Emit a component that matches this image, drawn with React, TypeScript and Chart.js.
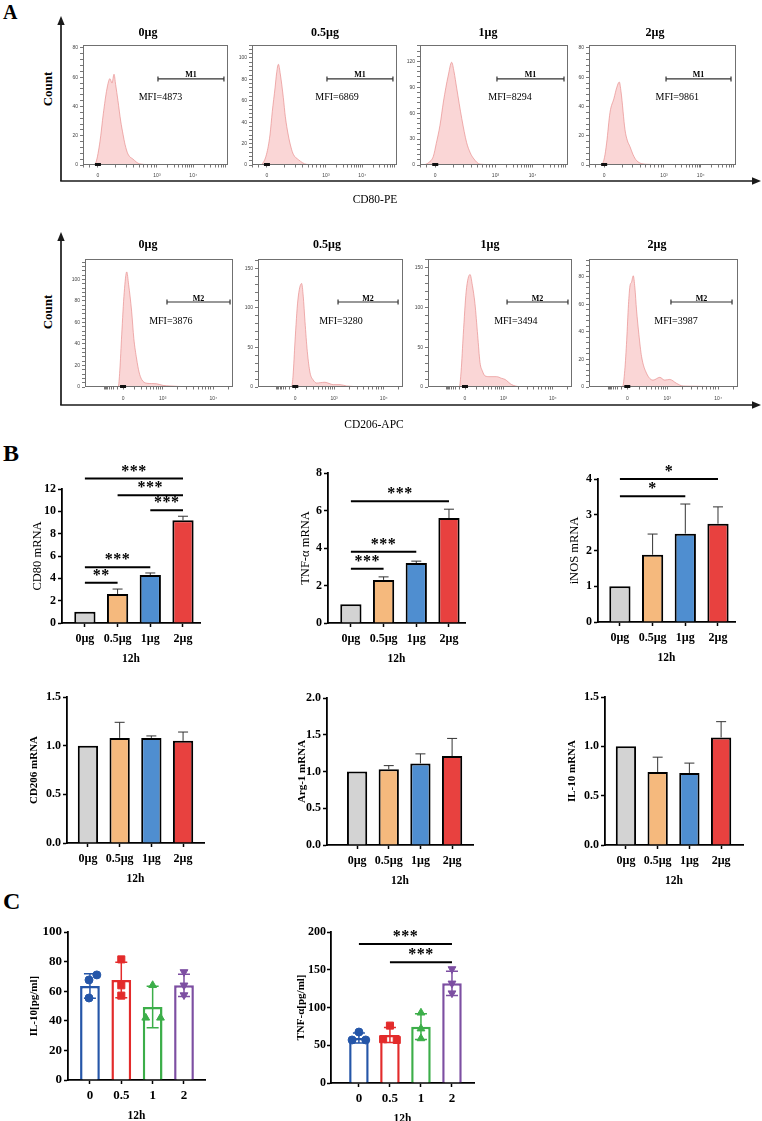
import React, { useEffect, useRef } from 'react';
import { Chart, registerables } from 'chart.js';

Chart.register(...registerables);

const SERIF = '"Liberation Serif", "Times New Roman", Times, serif';
const SANS = '"Liberation Sans", Arial, sans-serif';

/* ================= Panel A : flow cytometry ================= */
const doseTitles = ['0µg', '0.5µg', '1µg', '2µg'];
const flowAxisLabels = ['0', '10³', '10⁴'];
const cd80AxisPos = [10.3, 51, 76];
const cd206AxisPos = [25.7, 52.5, 86.7];
const cd80Mfi = [4873, 6869, 8294, 9861];
const cd206Mfi = [3876, 3280, 3494, 3987];
const cd80YMax = [82, 112, 139, 82];
const cd80YStep = [20, 20, 30, 20];
const cd206YMax = [119, 162, 161, 93];
const cd206YStep = [20, 50, 50, 20];

// channel (percent of axis) / count
const cd80Ch0 = [0, 7, 9, 11.7, 14, 16.5, 18.6, 20, 21.4, 22.5, 24.1, 26, 27.6, 29, 31, 34.5, 39, 45, 60, 100];
const cd80Cnt0 = [0, 0, 2, 16, 35, 52, 59, 56, 62, 55, 44, 30, 21, 14, 7.5, 4, 0.8, 0.3, 0.2, 0.2];
const cd80Ch1 = [0, 5, 7, 10, 12.4, 14, 15.9, 17, 18.2, 19.5, 21.6, 23, 25, 27, 28.5, 32, 37.7, 45, 60, 100];
const cd80Cnt1 = [0, 0, 1, 10, 28, 50, 72, 86, 94, 85, 63, 45, 28, 16, 10, 5, 0.6, 0.3, 0.2, 0.2];
const cd80Ch2 = [0, 2, 3.4, 6, 9, 11, 13.5, 15.8, 17.5, 19, 21.4, 23, 24.8, 28.2, 31.5, 34, 36, 40.5, 50, 100];
const cd80Cnt2 = [0, 0, 0.5, 3, 10, 25, 46, 73, 90, 103, 119, 108, 89, 54, 26, 14, 8, 1, 0.3, 0.2];
const cd80Ch3 = [0, 5, 8.6, 10.5, 12, 14.3, 17, 18.8, 20.6, 21.8, 24.5, 26, 27.9, 30, 32.4, 39.2, 50, 100];
const cd80Cnt3 = [0, 0, 0.3, 5, 15, 36, 45.6, 52.7, 56.7, 50, 24, 17, 12.5, 7, 3, 0.5, 0.3, 0.2];

const cd206Ch0 = [0, 20, 22.5, 23.5, 24.8, 26.5, 28.2, 29.5, 31.5, 33, 34.9, 36.5, 38.3, 41.7, 45, 48.4, 52.7, 57.4, 68.7, 100];
const cd206Cnt0 = [0, 0, 0.5, 15, 48.5, 88, 107, 95, 70.5, 45, 26, 14, 7, 3.5, 3.2, 3, 1.5, 1, 0.3, 0.2];
const cd206Ch1 = [0, 20, 23.2, 24.2, 25.5, 27.5, 30.1, 31.2, 32.4, 34, 35.9, 38, 40.5, 43, 46.2, 49, 51.8, 56.6, 61.1, 70.3, 100];
const cd206Cnt1 = [0, 0, 0.5, 15, 57, 110, 131, 115, 83, 45, 18, 9, 5, 5.5, 6, 4.5, 3, 3, 1.3, 0.5, 0.2];
const cd206Ch2 = [0, 19, 21.8, 23, 24.5, 26.5, 29.2, 30.8, 32.6, 34.5, 36.1, 37.8, 39.6, 43, 47.7, 51, 53.5, 58.1, 63.9, 100];
const cd206Cnt2 = [0, 0, 0.5, 20, 66, 120, 141.5, 128, 105, 65, 31, 20, 14, 13, 13, 11, 9.5, 3, 0.5, 0.2];
const cd206Ch3 = [0, 19, 22.6, 24, 25.3, 26.5, 27.5, 28.5, 29.7, 30.8, 31.9, 33.5, 35.3, 38.6, 43, 47.5, 50.8, 54.2, 58.7, 63.1, 100];
const cd206Cnt3 = [0, 0, 0.5, 12, 34, 60, 73.5, 76, 80.8, 72, 56, 38, 22, 10, 5, 7, 5, 5.5, 2.7, 0.7, 0.3];

/* ================= Panel B : qPCR ================= */
const bGroups = ['0µg', '0.5µg', '1µg', '2µg'];
const cd80Mean = [1.0, 2.6, 4.3, 9.2];
const cd80Sd = [0, 0.44, 0.18, 0.36];
const cd80Sig = [[0, 3, 12.95, '***'], [1, 3, 11.45, '***'], [2, 3, 10.1, '***'], [0, 2, 5.0, '***'], [0, 1, 3.6, '**']];
const tnfMean = [1.0, 2.3, 3.2, 5.6];
const tnfSd = [0, 0.16, 0.1, 0.47];
const tnfSig = [[0, 3, 6.5, '***'], [0, 2, 3.8, '***'], [0, 1, 2.9, '***']];
const inosMean = [1.0, 1.88, 2.47, 2.75];
const inosSd = [0, 0.58, 0.83, 0.47];
const inosSig = [[0, 3, 4.0, '*'], [0, 2, 3.52, '*']];
const cd206Mean = [1.0, 1.08, 1.08, 1.05];
const cd206Sd = [0, 0.16, 0.02, 0.09];
const arg1Mean = [1.0, 1.03, 1.11, 1.21];
const arg1Sd = [0, 0.05, 0.13, 0.24];
const il10Mean = [1.0, 0.74, 0.73, 1.09];
const il10Sd = [0, 0.15, 0.1, 0.16];

/* ================= Panel C : ELISA ================= */
const cGroups = ['0', '0.5', '1', '2'];
const il10pgMean = [63.5, 67.5, 49.3, 64];
const il10pgSd = [8.3, 12, 14, 7.5];
const il10pgPts = [[67.6, 55.4, 71], [81.5, 64, 57], [64, 42, 42], [73, 64, 57.4]];
const il10pgJit = [[-0.03, -0.03, 0.22], [0, 0, 0], [0, -0.22, 0.25], [0, 0, 0]];
const tnfpgMean = [59.6, 63.6, 74.6, 132];
const tnfpgSd = [6.5, 10, 17, 16];
const tnfpgPts = [[67.5, 57, 57], [76, 58, 57], [93, 72, 59], [151, 132, 119]];
const tnfpgJit = [[0, -0.22, 0.22], [0, -0.22, 0.22], [0, 0, 0], [0, 0, 0]];
const tnfpgSig = [[0, 3, 184, '***'], [1, 3, 160, '***']];

/* ================= styles ================= */
const bFills = ['#d3d3d3', '#f5b97d', '#4f8ed0', '#e8413f'];
const cColors = ['#2556a8', '#e32b2b', '#3cae49', '#7d4fa2'];
const cShapes = ['circle', 'rect', 'triangle', 'triangle'];
const cRot = [0, 0, 0, 180];
const cRadius = [4, 5, 4.5, 4.5];

/* ================= generic canvas ================= */
function ChartCanvas({ left, top, width, height, config }: any) {
  const ref = useRef<HTMLCanvasElement | null>(null);
  useEffect(() => {
    if (!ref.current) return;
    const chart = new Chart(ref.current, config());
    return () => chart.destroy();
  }, []);
  return (
    <canvas
      ref={ref}
      width={width}
      height={height}
      style={{ position: 'absolute', left, top, width, height }}
    />
  );
}

/* ================= histogram ================= */
const HL = 22, HT = 26, HR = 4, HB = 18;

function flowMinorTicks(pos: number[]) {
  const out: number[] = [];
  const w0 = pos[1] - pos[0];
  const w1 = pos[2] - pos[1];
  for (let k = 2; k <= 9; k++) {
    const l = Math.log10(k);
    out.push(pos[0] - w0 * l * 0.5);
    out.push(pos[0] + w0 * l);
    out.push(pos[1] + w1 * l);
    out.push(pos[2] + w1 * l);
  }
  return out.filter((v) => v > 0.5 && v < 99.5);
}

function histSetup(s: any) {
  const [l, t, r, b] = s.box;
  const left = l - HL;
  const top = t - HT;
  const width = r - l + HL + HR;
  const height = b - t + HT + HB;
  const xTicks = [...s.axisPos, ...flowMinorTicks(s.axisPos)].sort((a, c) => a - c);
  const yTicks: number[] = [];
  for (let k = 0; k * s.yStep / 5 <= s.yMax; k++) yTicks.push(k * s.yStep / 5);

  const decor = {
    id: 'histDecor',
    afterDraw(chart: any) {
      const { ctx, chartArea: a, scales } = chart;
      const xs = scales.x;
      const h = a.bottom - a.top;
      ctx.save();
      ctx.strokeStyle = '#707070';
      ctx.lineWidth = 1;
      ctx.strokeRect(a.left + 0.5, a.top + 0.5, a.right - a.left - 1, h - 1);
      ctx.fillStyle = '#000';
      ctx.textAlign = 'center';
      ctx.font = `bold 12px ${SERIF}`;
      ctx.textBaseline = 'middle';
      ctx.fillText(s.title, xs.getPixelForValue(s.titleU), a.top - s.titleGap);
      const gy = a.top + h * s.gateFrac;
      const g0 = xs.getPixelForValue(s.gate[0]);
      const g1 = xs.getPixelForValue(s.gate[1]);
      ctx.strokeStyle = '#333';
      ctx.lineWidth = 1.2;
      ctx.beginPath();
      ctx.moveTo(g0, gy); ctx.lineTo(g1, gy);
      ctx.moveTo(g0, gy - 2.5); ctx.lineTo(g0, gy + 2.5);
      ctx.moveTo(g1, gy - 2.5); ctx.lineTo(g1, gy + 2.5);
      ctx.stroke();
      ctx.font = `bold 8px ${SERIF}`;
      ctx.textBaseline = 'alphabetic';
      ctx.fillText(s.gateName, (g0 + g1) / 2, gy - 1.5);
      ctx.font = `10px ${SERIF}`;
      ctx.textBaseline = 'middle';
      ctx.fillText('MFI=' + s.mfi, xs.getPixelForValue(s.mfiU), a.top + h * s.mfiFrac);
      ctx.fillStyle = '#111';
      const zx = xs.getPixelForValue(s.axisPos[0]);
      ctx.fillRect(zx - 3, a.bottom - 2, 6, 3);
      ctx.restore();
    },
  };

  const config = () => ({
    type: 'line',
    data: {
      datasets: [
        {
          data: s.xs.map((x: number, i: number) => ({ x, y: s.ys[i] })),
          fill: 'origin',
          backgroundColor: 'rgba(243,165,165,0.45)',
          borderColor: 'rgba(232,140,140,0.85)',
          borderWidth: 0.8,
          pointRadius: 0,
          cubicInterpolationMode: 'monotone',
        },
      ],
    },
    options: {
      animation: false,
      responsive: false,
      events: [],
      layout: { padding: { top: HT, right: HR, left: 0, bottom: 0 } },
      plugins: { legend: { display: false }, tooltip: { enabled: false } },
      scales: {
        x: {
          type: 'linear',
          min: 0,
          max: 100,
          border: { display: false },
          grid: { drawOnChartArea: false, drawTicks: true, tickLength: 2.5, tickColor: '#555', tickWidth: 0.8 },
          afterBuildTicks: (sc: any) => { sc.ticks = xTicks.map((v) => ({ value: v })); },
          afterFit: (sc: any) => { sc.height = HB; },
          ticks: {
            autoSkip: false,
            maxRotation: 0,
            padding: s.xPad,
            color: '#444',
            font: { family: SANS, size: 5 },
            callback: (v: number) => {
              const i = s.axisPos.indexOf(v);
              return i >= 0 ? flowAxisLabels[i] : '';
            },
          },
        },
        y: {
          type: 'linear',
          min: 0,
          max: s.yMax,
          border: { display: false },
          grid: { drawOnChartArea: false, drawTicks: true, tickLength: 3, tickColor: '#555', tickWidth: 0.8 },
          afterBuildTicks: (sc: any) => { sc.ticks = yTicks.map((v) => ({ value: v })); },
          afterFit: (sc: any) => { sc.width = HL; },
          ticks: {
            autoSkip: false,
            padding: 2,
            color: '#444',
            font: { family: SANS, size: 5 },
            callback: (v: number) => (Math.abs(v / s.yStep - Math.round(v / s.yStep)) < 1e-6 ? String(Math.round(v)) : ''),
          },
        },
      },
    },
    plugins: [decor],
  });
  return { left, top, width, height, config };
}

const cd80Boxes = [[83, 45, 228, 165], [252, 45, 397, 165], [420, 45, 568, 165], [589, 45, 736, 165]];
const cd206Boxes = [[85, 259, 233, 387], [258, 259, 403, 387], [428, 259, 572, 387], [589, 259, 738, 387]];
const cd80TitleU = [44.8, 50.3, 45.9, 44.9];
const cd206TitleU = [42.6, 47.6, 43, 45.6];
const cd80Gate = [[51.7, 97.2], [51.7, 97.2], [52, 97.3], [52.4, 96.6]];
const cd206Gate = [[55.4, 98], [55.2, 96.6], [54.9, 97.2], [55, 96]];
const cd80MfiU = [53.4, 58.6, 60.8, 60];
const cd206MfiU = [58, 57.2, 61, 58.4];
const cd80Series = [[cd80Ch0, cd80Cnt0], [cd80Ch1, cd80Cnt1], [cd80Ch2, cd80Cnt2], [cd80Ch3, cd80Cnt3]];
const cd206Series = [[cd206Ch0, cd206Cnt0], [cd206Ch1, cd206Cnt1], [cd206Ch2, cd206Cnt2], [cd206Ch3, cd206Cnt3]];

const hists = [
  ...cd80Series.map(([xs, ys], i) =>
    histSetup({
      box: cd80Boxes[i], xs, ys, yMax: cd80YMax[i], yStep: cd80YStep[i], title: doseTitles[i],
      titleU: cd80TitleU[i], titleGap: 12, gate: cd80Gate[i], gateName: 'M1', gateFrac: 0.283,
      mfi: cd80Mfi[i], mfiU: cd80MfiU[i], mfiFrac: 0.433, axisPos: cd80AxisPos, xPad: 5.5,
    })
  ),
  ...cd206Series.map(([xs, ys], i) =>
    histSetup({
      box: cd206Boxes[i], xs, ys, yMax: cd206YMax[i], yStep: cd206YStep[i], title: doseTitles[i],
      titleU: cd206TitleU[i], titleGap: 14, gate: cd206Gate[i], gateName: 'M2', gateFrac: 0.336,
      mfi: cd206Mfi[i], mfiU: cd206MfiU[i], mfiFrac: 0.49, axisPos: cd206AxisPos, xPad: 6,
    })
  ),
];

/* ================= bar charts ================= */
const PT = 50, PR = 10, XH = 43;

function barSetup(s: any) {
  const lh = s.titleSize * 1.2;
  const left = Math.round(s.titleX - lh / 2);
  const yW = s.axisX - left;
  const top = s.topY - PT;
  const width = s.rightX + PR - left;
  const height = PT + (s.zeroY - s.topY) + XH;

  const decor = {
    id: 'barDecor',
    afterDatasetsDraw(chart: any) {
      const { ctx, scales } = chart;
      const x = scales.x, y = scales.y;
      ctx.save();
      s.means.forEach((m: number, i: number) => {
        const sd = s.sds[i];
        if (!sd) return;
        const px = x.getPixelForValue(i);
        const yHi = y.getPixelForValue(m + sd);
        const yLo = y.getPixelForValue(s.errBoth ? m - sd : m);
        ctx.strokeStyle = s.errColors[i];
        ctx.lineWidth = s.errW;
        ctx.beginPath();
        ctx.moveTo(px, yLo); ctx.lineTo(px, yHi);
        ctx.moveTo(px - s.capW / 2, yHi); ctx.lineTo(px + s.capW / 2, yHi);
        if (s.errBoth) { ctx.moveTo(px - s.capW / 2, yLo); ctx.lineTo(px + s.capW / 2, yLo); }
        ctx.stroke();
      });
      ctx.restore();
    },
    afterDraw(chart: any) {
      if (!s.sig) return;
      const { ctx, scales } = chart;
      const x = scales.x, y = scales.y;
      ctx.save();
      ctx.strokeStyle = '#000';
      ctx.fillStyle = '#000';
      ctx.lineWidth = 2;
      ctx.textAlign = 'center';
      ctx.textBaseline = 'middle';
      ctx.font = `bold 16px ${SERIF}`;
      try { (ctx as any).letterSpacing = '0.5px'; } catch (e) { /* ignore */ }
      s.sig.forEach(([a, b, v, t]: any) => {
        const x0 = x.getPixelForValue(a);
        const x1 = x.getPixelForValue(b);
        const py = y.getPixelForValue(v);
        ctx.beginPath();
        ctx.moveTo(x0, py); ctx.lineTo(x1, py);
        ctx.stroke();
        ctx.fillText(t, (x0 + x1) / 2, py - 7);
      });
      ctx.restore();
    },
  };

  const config = () => {
    const datasets: any[] = [
      {
        type: 'bar',
        data: s.means.map((m: number, i: number) => ({ x: i, y: m })),
        backgroundColor: s.fills,
        borderColor: s.borders,
        borderWidth: s.bw,
        borderSkipped: 'start',
        categoryPercentage: 1,
        barPercentage: s.barPct,
        order: 2,
      },
    ];
    if (s.pts) {
      s.pts.forEach((vals: number[], g: number) =>
        datasets.push({
          type: 'scatter',
          data: vals.map((v, k) => ({ x: g + s.jit[g][k], y: v })),
          pointStyle: cShapes[g],
          pointRotation: cRot[g],
          pointRadius: cRadius[g],
          backgroundColor: s.borders[g],
          borderColor: s.borders[g],
          borderWidth: 1,
          order: 1,
        })
      );
    }
    return {
      type: 'bar',
      data: { datasets },
      options: {
        animation: false,
        responsive: false,
        events: [],
        layout: { padding: { top: PT, right: PR, left: 0, bottom: 0 } },
        plugins: { legend: { display: false }, tooltip: { enabled: false } },
        scales: {
          x: {
            type: 'linear',
            min: s.xMin,
            max: s.xMax,
            offset: false,
            afterBuildTicks: (sc: any) => { sc.ticks = s.xLabels.map((_: any, i: number) => ({ value: i })); },
            afterFit: (sc: any) => { sc.height = XH; },
            ticks: {
              autoSkip: false,
              maxRotation: 0,
              padding: s.xPad,
              color: '#000',
              font: { family: SERIF, size: s.xFont, weight: 'bold' },
              callback: (v: number) => s.xLabels[v] ?? '',
            },
            grid: { offset: false, drawOnChartArea: false, drawTicks: true, tickLength: 4, tickColor: '#000', tickWidth: 1.5 },
            border: { display: true, color: '#000', width: 1.8 },
            title: { display: true, text: '12h', color: '#000', font: { family: SERIF, size: 11.5, weight: 'bold' }, padding: 0 },
          },
          y: {
            type: 'linear',
            min: 0,
            max: s.yMax,
            afterFit: (sc: any) => { sc.width = yW; },
            ticks: {
              stepSize: s.yStep,
              padding: s.yPad ?? 2,
              color: '#000',
              font: { family: SERIF, size: s.yFont, weight: 'bold' },
              callback: (v: number) => Number(v).toFixed(s.yDec),
            },
            grid: { drawOnChartArea: false, drawTicks: true, tickLength: 4, tickColor: '#000', tickWidth: 1.5 },
            border: { display: true, color: '#000', width: 1.8 },
            title: {
              display: true,
              text: s.yTitle,
              color: '#000',
              font: { family: SERIF, size: s.titleSize, weight: s.titleWeight },
              padding: 0,
            },
          },
        },
      },
      plugins: [decor],
    };
  };
  return { left, top, width, height, config };
}

const bBase = {
  xLabels: bGroups, xFont: 12, xPad: 5, yFont: 12, fills: bFills, borders: '#000', bw: 2,
  errBoth: false, errColors: ['#333', '#333', '#333', '#333'], errW: 1, capW: 10,
};
const cBase = {
  xLabels: cGroups, xFont: 13, xPad: 4, yFont: 13, fills: '#fff', borders: cColors, bw: 2.5,
  errBoth: true, errColors: cColors, errW: 1.5, capW: 12, barPct: 0.63, yDec: 0,
  titleSize: 11, titleWeight: 'bold',
};

const bars = [
  barSetup({ ...bBase, axisX: 62, topY: 489, zeroY: 623, rightX: 200, titleX: 37, yMax: 12, yStep: 2, yDec: 0,
    xMin: -0.7, xMax: 3.52, yTitle: 'CD80 mRNA', titleSize: 12.5, titleWeight: 'normal', barPct: 0.65,
    means: cd80Mean, sds: cd80Sd, sig: cd80Sig }),
  barSetup({ ...bBase, axisX: 328, topY: 473, zeroY: 623, rightX: 465, titleX: 305, yMax: 8, yStep: 2, yDec: 0,
    xMin: -0.7, xMax: 3.49, yTitle: 'TNF-α mRNA', titleSize: 12.5, titleWeight: 'normal', barPct: 0.65,
    means: tnfMean, sds: tnfSd, sig: tnfSig }),
  barSetup({ ...bBase, axisX: 598, topY: 479, zeroY: 622, rightX: 735, titleX: 574, yMax: 4, yStep: 1, yDec: 0,
    xMin: -0.67, xMax: 3.52, yTitle: 'iNOS mRNA', titleSize: 12.5, titleWeight: 'normal', barPct: 0.65,
    means: inosMean, sds: inosSd, sig: inosSig }),
  barSetup({ ...bBase, axisX: 67, topY: 697, zeroY: 843, rightX: 204, titleX: 35, yMax: 1.5, yStep: 0.5, yDec: 1,
    xMin: -0.66, xMax: 3.66, yTitle: 'CD206 mRNA', titleSize: 11, titleWeight: 'bold', barPct: 0.64,
    means: cd206Mean, sds: cd206Sd }),
  barSetup({ ...bBase, axisX: 327, topY: 698, zeroY: 845, rightX: 473, titleX: 303, yMax: 2.0, yStep: 0.5, yDec: 1,
    xMin: -0.95, xMax: 3.66, yTitle: 'Arg-1 mRNA', titleSize: 11, titleWeight: 'bold', barPct: 0.64,
    means: arg1Mean, sds: arg1Sd }),
  barSetup({ ...bBase, axisX: 605, topY: 697, zeroY: 845, rightX: 743, titleX: 573, yMax: 1.5, yStep: 0.5, yDec: 1,
    xMin: -0.66, xMax: 3.69, yTitle: 'IL-10 mRNA', titleSize: 11, titleWeight: 'bold', barPct: 0.64,
    means: il10Mean, sds: il10Sd }),
  barSetup({ ...cBase, axisX: 68, topY: 932, zeroY: 1080, rightX: 205, titleX: 35, yMax: 100, yStep: 20,
    xMin: -0.7, xMax: 3.67, yTitle: 'IL-10[pg/ml]', means: il10pgMean, sds: il10pgSd,
    pts: il10pgPts, jit: il10pgJit }),
  barSetup({ ...cBase, axisX: 331, topY: 932, zeroY: 1083, rightX: 474, titleX: 302, yMax: 200, yStep: 50,
    yFont: 12, yPad: 1,
    xMin: -0.9, xMax: 3.71, yTitle: 'TNF-α[pg/ml]', means: tnfpgMean, sds: tnfpgSd,
    pts: tnfpgPts, jit: tnfpgJit, sig: tnfpgSig }),
];

/* ================= overlay text / arrows ================= */
function Label({ text, x, y, size, weight = 'normal', rotate = false, center = true }: any) {
  return (
    <div
      style={{
        position: 'absolute',
        left: x,
        top: y,
        transform: center ? `translate(-50%, -50%)${rotate ? ' rotate(-90deg)' : ''}` : undefined,
        fontFamily: SERIF,
        fontSize: size,
        fontWeight: weight,
        lineHeight: 1,
        whiteSpace: 'nowrap',
        color: '#000',
      }}
    >
      {text}
    </div>
  );
}

function Arrows() {
  const rows = [{ tip: 16, y: 181 }, { tip: 232, y: 405 }];
  return (
    <svg width={762} height={1121} style={{ position: 'absolute', left: 0, top: 0 }}>
      {rows.map((r, i) => (
        <g key={i}>
          <line x1={61} y1={r.y} x2={61} y2={r.tip + 6} stroke="#1a1a1a" strokeWidth={1.7} />
          <line x1={60.2} y1={r.y} x2={753} y2={r.y} stroke="#1a1a1a" strokeWidth={1.7} />
          <polygon points={`61,${r.tip} 57.3,${r.tip + 9} 64.7,${r.tip + 9}`} fill="#1a1a1a" />
          <polygon points={`761,${r.y} 752,${r.y - 3.8} 752,${r.y + 3.8}`} fill="#1a1a1a" />
        </g>
      ))}
    </svg>
  );
}

export default function App() {
  return (
    <div
      style={{
        position: 'absolute',
        left: 0,
        top: 0,
        width: 762,
        height: 1121,
        background: '#fff',
        overflow: 'hidden',
      }}
    >
      <Arrows />
      {hists.map((h, i) => (
        <ChartCanvas key={'h' + i} {...h} />
      ))}
      {bars.map((b, i) => (
        <ChartCanvas key={'b' + i} {...b} />
      ))}
      <Label text="A" x={3} y={1.5} size={20} weight="bold" center={false} />
      <Label text="B" x={3} y={440.8} size={24} weight="bold" center={false} />
      <Label text="C" x={3} y={889} size={24} weight="bold" center={false} />
      <Label text="Count" x={47} y={89} size={13} weight="bold" rotate />
      <Label text="Count" x={47} y={312} size={13} weight="bold" rotate />
      <Label text="CD80-PE" x={375} y={200} size={11.5} />
      <Label text="CD206-APC" x={374} y={425} size={11.5} />
    </div>
  );
}
